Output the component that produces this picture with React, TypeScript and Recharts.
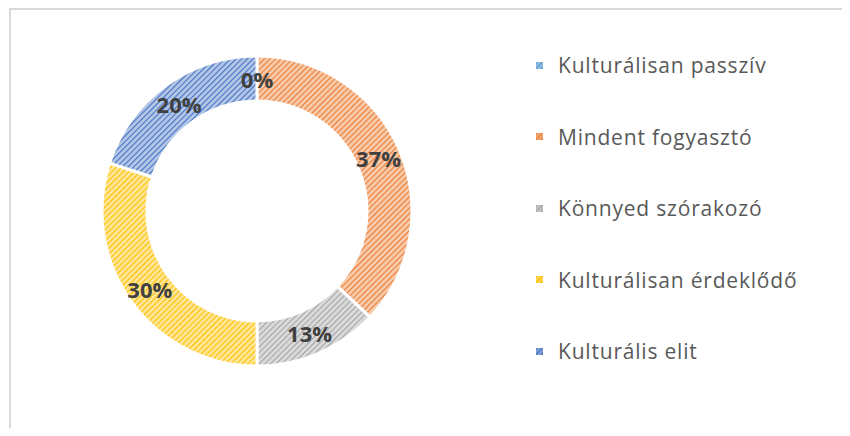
import { PieChart, Pie, Cell, Legend } from "recharts";

const categories = [
  "Kulturálisan passzív",
  "Mindent fogyasztó",
  "Könnyed szórakozó",
  "Kulturálisan érdeklődő",
  "Kulturális elit",
];
const shares = [0, 37, 13, 30, 20];
const baseColors = ["#5B9BD5", "#ED7D31", "#A5A5A5", "#FFC000", "#4472C4"];
const lightColors = ["#BDD7EE", "#F8CBAD", "#DBDBDB", "#FFE699", "#B4C7E7"];

const data = categories.map((name, i) => ({ name, value: shares[i] }));

const RAD = Math.PI / 180;

function renderLabel(props: any) {
  const { cx, cy, midAngle, innerRadius, outerRadius, value } = props;
  const r = (innerRadius + outerRadius) / 2;
  const x = cx + r * Math.cos(-midAngle * RAD);
  const y = cy + r * Math.sin(-midAngle * RAD);
  return (
    <text
      x={x}
      y={y}
      textAnchor="middle"
      dominantBaseline="central"
      fill="#404040"
      fontSize={22}
      fontWeight="bold"
      fontFamily="'Open Sans', sans-serif"
    >
      {value}%
    </text>
  );
}

function renderLegend() {
  return (
    <div>
      {categories.map((name, i) => (
        <div
          key={name}
          style={{
            position: "absolute",
            left: 0,
            top: i * 71.5,
            height: 24,
            display: "flex",
            alignItems: "center",
            whiteSpace: "nowrap",
          }}
        >
          <svg width={7} height={7} style={{ marginRight: 15 }}>
            <rect width={7} height={7} fill={`url(#hatch${i})`} />
            <rect width={7} height={7} fill={baseColors[i]} opacity={0.5} />
          </svg>
          <span
            style={{
              fontSize: 21,
              color: "#595959",
              letterSpacing: 0.8,
              fontFamily: "'Open Sans', sans-serif",
            }}
          >
            {name}
          </span>
        </div>
      ))}
    </div>
  );
}

export default function App() {
  return (
    <div style={{ position: "relative", width: 850, height: 436, margin: -8, background: "#fff", overflow: "hidden" }}>
      <div
        style={{
          position: "absolute",
          left: 9,
          top: 8,
          width: 860,
          height: 450,
          border: "2px solid #D9D9D9",
          boxSizing: "border-box",
        }}
      />
      <PieChart
        width={850}
        height={436}
        margin={{ top: 0, right: 0, bottom: 0, left: 0 }}
        style={{ position: "absolute", left: 0, top: 0 }}
      >
        <defs>
          {baseColors.map((c, i) => (
            <pattern
              key={i}
              id={`hatch${i}`}
              width={4}
              height={4}
              patternUnits="userSpaceOnUse"
              patternTransform="rotate(45)"
            >
              <rect width={4} height={4} fill={lightColors[i]} />
              <line x1={0} y1={0} x2={0} y2={4} stroke={c} strokeWidth={2.2} />
            </pattern>
          ))}
        </defs>
        <Pie
          data={data}
          dataKey="value"
          nameKey="name"
          cx={257}
          cy={211}
          innerRadius={110}
          outerRadius={155}
          startAngle={90}
          endAngle={-270}
          stroke="#FFFFFF"
          strokeWidth={3}
          label={renderLabel}
          labelLine={false}
          isAnimationActive={false}
        >
          {data.map((d, i) => (
            <Cell key={d.name} fill={`url(#hatch${i})`} />
          ))}
        </Pie>
        <Legend
          content={renderLegend}
          wrapperStyle={{ position: "absolute", left: 536, top: 53, width: 300, height: 320 }}
        />
      </PieChart>
    </div>
  );
}
